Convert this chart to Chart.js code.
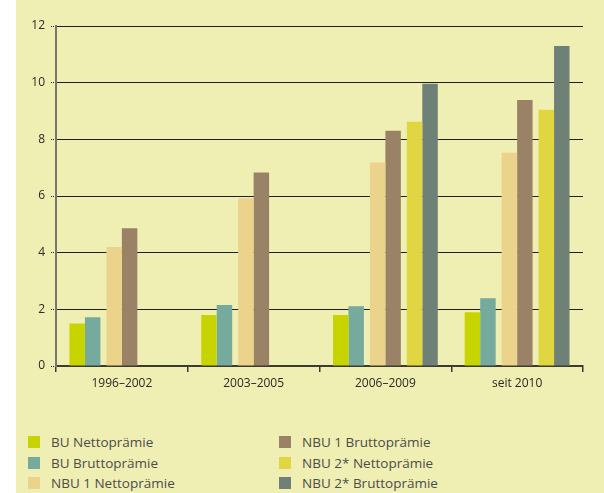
<!DOCTYPE html>
<html>
<head>
<meta charset="utf-8">
<script src="https://cdn.jsdelivr.net/npm/chart.js@4/dist/chart.umd.min.js"></script>
<style>
  html, body { margin: 0; padding: 0; background: #fff; }
  #panel { position: absolute; left: 16px; top: 0; width: 588px; height: 493px; background: #efeeb3; }
  #wrap { position: absolute; left: 0; top: 0; width: 604px; height: 400px; }
  #legend { position: absolute; left: 28px; top: 432px; width: 560px; font-family: "Open Sans", sans-serif; font-size: 13.5px; color: #4d4d48; }
  #legend .col { position: absolute; top: 0; }
  #legend .item { height: 20.5px; line-height: 20px; white-space: nowrap; }
  #legend .box { display: inline-block; width: 12px; height: 12px; vertical-align: -1px; margin-right: 11px; }
</style>
</head>
<body>
<div id="panel"></div>
<div id="wrap"><canvas id="chartPraemien"></canvas></div>
<div id="legend"></div>
<script>
const categories = ['1996–2002', '2003–2005', '2006–2009', 'seit 2010'];
const seriesNames = ['BU Nettoprämie', 'BU Bruttoprämie', 'NBU 1 Nettoprämie', 'NBU 1 Bruttoprämie', 'NBU 2* Nettoprämie', 'NBU 2* Bruttoprämie'];
const buNetto = [1.5, 1.8, 1.8, 1.9];
const buBrutto = [1.72, 2.15, 2.11, 2.39];
const nbu1Netto = [4.2, 5.92, 7.18, 7.53];
const nbu1Brutto = [4.86, 6.83, 8.3, 9.39];
const nbu2Netto = [null, null, 8.62, 9.04];
const nbu2Brutto = [null, null, 9.96, 11.29];
const yTicks = [0, 2, 4, 6, 8, 10, 12];

const colors = ['#c8d400', '#76aa9c', '#ebd38b', '#9a8266', '#e0d642', '#6f8076'];
const seriesValues = [buNetto, buBrutto, nbu1Netto, nbu1Brutto, nbu2Netto, nbu2Brutto];

// bars come in pairs: per-dataset category/bar percentages pull each pair together
const catPct = [0.8136, 0.886, 0.7045, 0.7045, 0.886, 0.8136];
const barPct = [0.866, 0.795, 1.0, 1.0, 0.795, 0.866];

const ctx = document.getElementById('chartPraemien');
const chart = new Chart(ctx, {
  type: 'bar',
  data: {
    labels: categories,
    datasets: seriesValues.map((vals, i) => ({
      label: seriesNames[i],
      data: vals,
      backgroundColor: colors[i],
      borderWidth: 0,
      categoryPercentage: catPct[i],
      barPercentage: barPct[i]
    }))
  },
  options: {
    responsive: true,
    maintainAspectRatio: false,
    animation: false,
    layout: { padding: { top: 26, right: 21, left: 0, bottom: 0 } },
    plugins: {
      legend: { display: false },
      tooltip: { enabled: false }
    },
    scales: {
      x: {
        afterFit: (scale) => { scale.height = 34; },
        border: { color: '#3a3a36', width: 2 },
        grid: { drawOnChartArea: false, drawTicks: true, tickLength: 6, color: '#3a3a36', lineWidth: 1.5, offset: true },
        ticks: { color: '#2a2a26', padding: 4, font: { family: '"Open Sans", sans-serif', size: 12 } }
      },
      y: {
        min: 0,
        max: 12,
        afterFit: (scale) => { scale.width = 56; },
        afterBuildTicks: (scale) => { scale.ticks = yTicks.map(v => ({ value: v })); },
        border: { color: '#77776a', width: 2 },
        grid: { color: '#1e1e1a', lineWidth: 1, tickLength: 5, borderDash: [1, 1], tickBorderDash: [1, 1] },
        ticks: { color: '#2a2a26', padding: 6, font: { family: '"Open Sans", sans-serif', size: 12 } }
      }
    }
  }
});

// legend in two columns, built from the chart's datasets
const legend = document.getElementById('legend');
[[0, 1, 2], [3, 4, 5]].forEach((idx, c) => {
  const col = document.createElement('div');
  col.className = 'col';
  col.style.left = (c * 251) + 'px';
  idx.forEach(i => {
    const ds = chart.data.datasets[i];
    const item = document.createElement('div');
    item.className = 'item';
    item.innerHTML = '<span class="box" style="background:' + ds.backgroundColor + '"></span>' + ds.label;
    col.appendChild(item);
  });
  legend.appendChild(col);
});
</script>
</body>
</html>
